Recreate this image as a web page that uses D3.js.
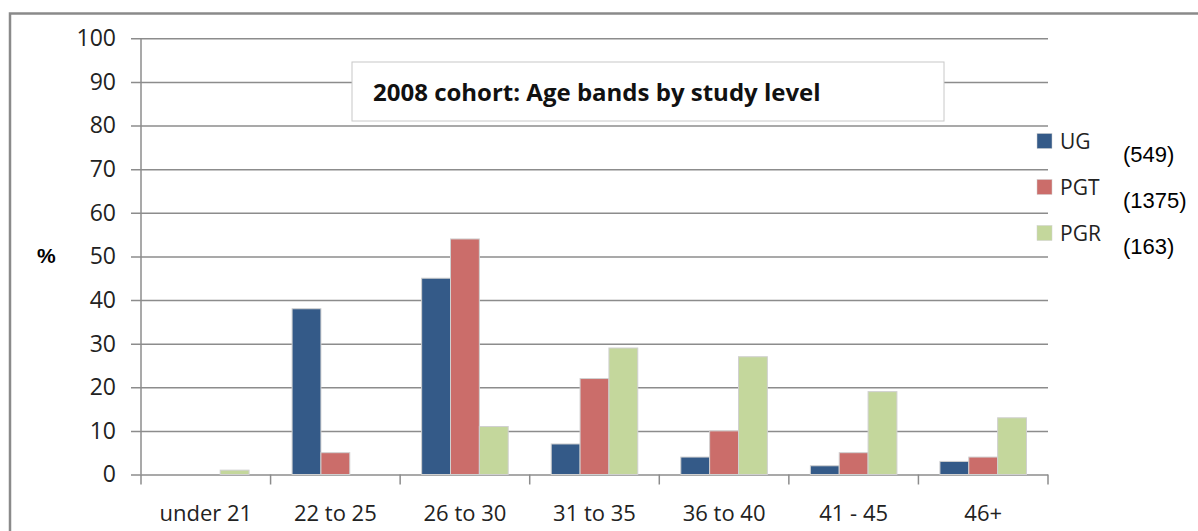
<!DOCTYPE html>
<html>
<head>
<meta charset="utf-8">
<script src="https://cdn.jsdelivr.net/npm/d3@7"></script>
<style>
  body { margin: 0; background: white; }
  svg { display: block; }
</style>
</head>
<body>
<script>
var categories = ["under 21", "22 to 25", "26 to 30", "31 to 35", "36 to 40", "41 - 45", "46+"];
var seriesNames = ["UG", "PGT", "PGR"];
var seriesCounts = ["(549)", "(1375)", "(163)"];
var ugValues  = [0, 38, 45, 7, 4, 2, 3];
var pgtValues = [0, 5, 54, 22, 10, 5, 4];
var pgrValues = [1, 0, 11, 29, 27, 19, 13];
var yTicks = [0, 10, 20, 30, 40, 50, 60, 70, 80, 90, 100];
var titleText = "2008 cohort: Age bands by study level";

var colors = ["#345a88", "#cb6d6a", "#c4d79c"];
var valuesBySeries = [ugValues, pgtValues, pgrValues];

var width = 1198,
    height = 531;

var plotLeft = 141, plotRight = 1048, plotTop = 38.3, plotBottom = 474.5;

var svg = d3.select("body").append("svg")
  .attr("width", width)
  .attr("height", height);

// outer frame (only top and left edge visible)
svg.append("path")
  .attr("d", "M10," + height + "V13.5H" + width)
  .style("fill", "none")
  .style("stroke", "#8a8a8a")
  .style("stroke-width", 2.5);

var y = d3.scaleLinear().domain([0, 100]).range([plotBottom, plotTop]);

var x0 = d3.scaleBand().domain(categories).range([plotLeft, plotRight]).padding(0);
var gap = x0.bandwidth() * 0.166;
var x1 = d3.scaleBand().domain(seriesNames).range([gap, x0.bandwidth() - gap]).padding(0);

// gridlines + y tick labels
var yAxis = svg.append("g")
  .attr("transform", "translate(" + plotRight + ",0)")
  .call(d3.axisLeft(y).tickValues(yTicks).tickSize(plotRight - 131).tickPadding(15));
yAxis.select(".domain").remove();
yAxis.selectAll("line")
  .style("stroke", "#8c8c8c")
  .style("stroke-width", 1.5);
yAxis.selectAll("text")
  .style("font-family", "'Open Sans', sans-serif")
  .style("font-size", "23px")
  .style("fill", "#222");

// y axis line
svg.append("line")
  .attr("x1", plotLeft).attr("x2", plotLeft)
  .attr("y1", plotTop).attr("y2", plotBottom)
  .style("stroke", "#8c8c8c")
  .style("stroke-width", 1.5);

// category separators
var edges = categories.map(function(c) { return x0(c); }).concat([plotRight]);
svg.append("g").selectAll("line")
  .data(edges)
  .enter().append("line")
  .attr("x1", function(d) { return d; })
  .attr("x2", function(d) { return d; })
  .attr("y1", plotBottom)
  .attr("y2", plotBottom + 10)
  .style("stroke", "#8c8c8c")
  .style("stroke-width", 1.5);

// category labels
var xAxis = svg.append("g")
  .attr("transform", "translate(0," + plotBottom + ")")
  .call(d3.axisBottom(x0).tickSize(0).tickPadding(31));
xAxis.select(".domain").remove();
xAxis.selectAll("text")
  .style("font-family", "'Open Sans', sans-serif")
  .style("font-size", "22px")
  .style("fill", "#222");

// bars
var groups = svg.append("g").selectAll("g")
  .data(categories)
  .enter().append("g")
  .attr("transform", function(c) { return "translate(" + x0(c) + ",0)"; });

groups.selectAll("rect")
  .data(function(c, i) {
    return seriesNames.map(function(s, j) { return { s: s, j: j, v: valuesBySeries[j][i] }; });
  })
  .enter().append("rect")
  .filter(function(d) { return d.v > 0; })
  .attr("x", function(d) { return x1(d.s); })
  .attr("y", function(d) { return y(d.v); })
  .attr("width", x1.bandwidth())
  .attr("height", function(d) { return y(0) - y(d.v); })
  .style("fill", function(d) { return colors[d.j]; })
  .style("stroke", "#d0d0d0")
  .style("stroke-width", 1);

// title box
svg.append("rect")
  .attr("x", 352).attr("y", 62)
  .attr("width", 592).attr("height", 59)
  .style("fill", "white")
  .style("stroke", "#c8c8c8")
  .style("stroke-width", 1);

svg.append("text")
  .attr("x", 373).attr("y", 101)
  .style("font-family", "'Open Sans', sans-serif")
  .style("font-weight", "bold")
  .style("font-size", "24px")
  .style("fill", "#111")
  .text(titleText);

// % label
svg.append("text")
  .attr("x", 37).attr("y", 263)
  .style("font-family", "'Liberation Sans', Arial, sans-serif")
  .style("font-weight", "bold")
  .style("font-size", "21px")
  .text("%");

// legend
var legend = svg.append("g").selectAll("g")
  .data(seriesNames)
  .enter().append("g")
  .attr("transform", function(d, i) { return "translate(1037," + (133.5 + i * 46) + ")"; });

legend.append("rect")
  .attr("width", 15).attr("height", 15)
  .style("fill", function(d, i) { return colors[i]; })
  .style("stroke", "#d0d0d0")
  .style("stroke-width", 0.5);

legend.append("text")
  .attr("x", 23).attr("y", 15)
  .style("font-family", "'Open Sans', sans-serif")
  .style("font-size", "21px")
  .style("fill", "#222")
  .text(function(d) { return d; });

legend.append("text")
  .attr("x", 86).attr("y", 28)
  .style("font-family", "'Liberation Sans', Arial, sans-serif")
  .style("font-size", "22px")
  .style("fill", "#000")
  .text(function(d, i) { return seriesCounts[i]; });
</script>
</body>
</html>
